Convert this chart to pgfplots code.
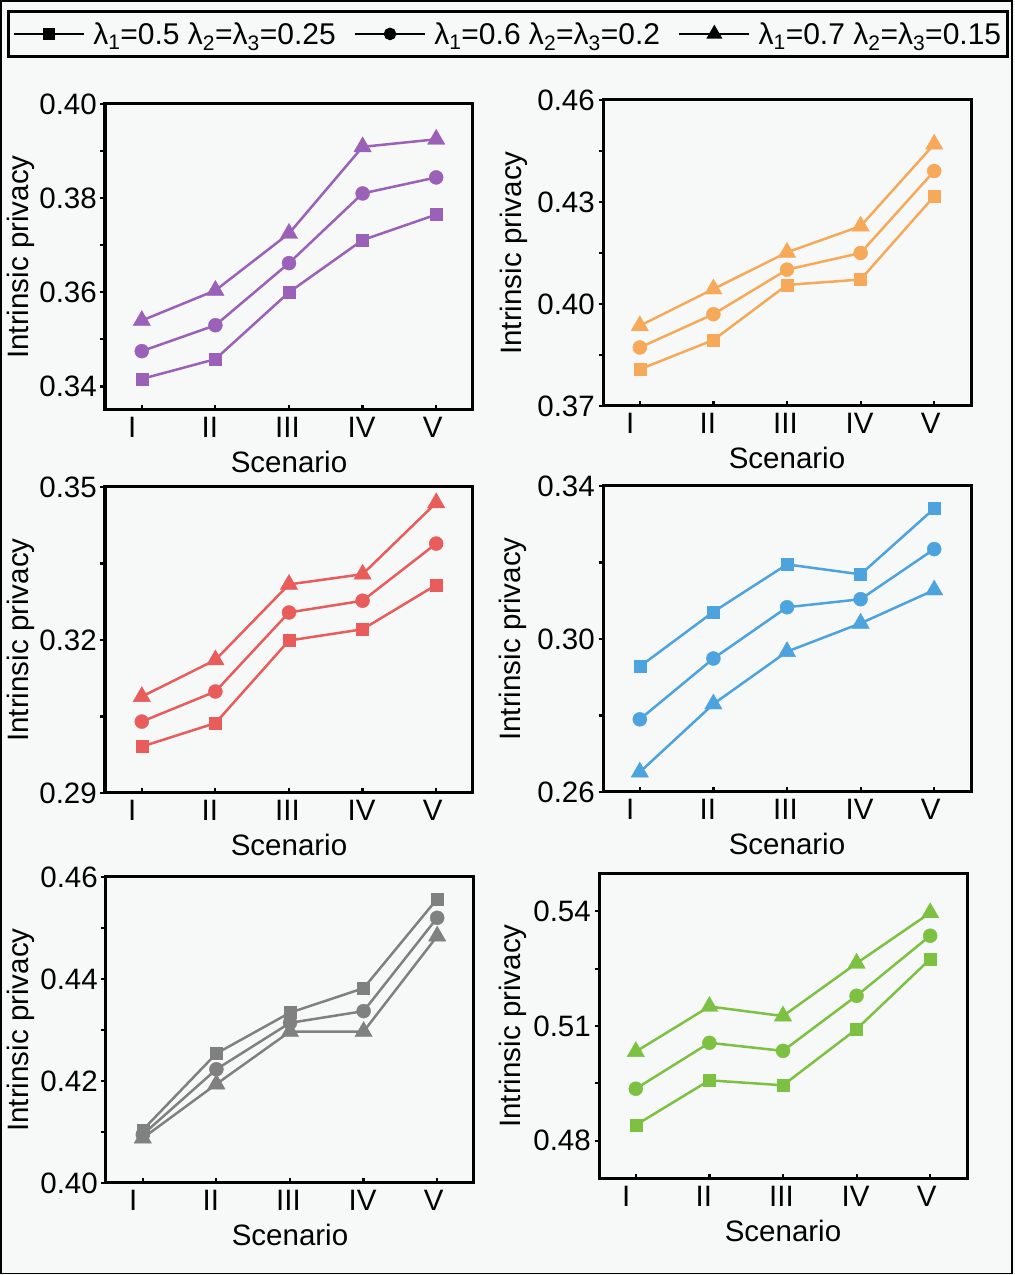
\documentclass[border=0pt]{standalone}
\usepackage{fontspec}
\setmainfont{Liberation Sans}
\usepackage{pgfplots}
\pgfplotsset{compat=1.18}
\definecolor{bg}{HTML}{F7F9F8}
\definecolor{cpurple}{RGB}{155,96,184}
\definecolor{corange}{RGB}{247,169,90}
\definecolor{cred}{RGB}{232,92,92}
\definecolor{cblue}{RGB}{76,163,222}
\definecolor{cgray}{RGB}{128,128,128}
\definecolor{cgreen}{RGB}{125,193,66}
\pgfplotsset{
  panel/.style={
    scale only axis, width=368pt, height=306pt,
    xmin=0.5, xmax=5.5, xtick={1,2,3,4,5},
    xticklabels={I\hspace*{19pt},II\hspace*{11pt},III\hspace*{3pt},IV\hspace*{2pt},V\hspace*{7pt}},
    font=\fontsize{29.5}{34}\selectfont,
    axis line style={line width=3pt},
    tick style={line width=2.2pt, black},
    major tick length=4.5pt, minor tick length=4.5pt,
    tick align=inside, tick pos=left,
    every y tick/.append style={xshift=-4.5pt},
    /pgf/number format/assume math mode=true,
    /pgf/number format/fixed, /pgf/number format/fixed zerofill, /pgf/number format/precision=2,
    yticklabel style={inner sep=0pt, xshift=-8pt},
    xticklabel style={inner sep=0pt, yshift=-7pt},
    xlabel={Scenario}, ylabel={Intrinsic privacy},
    xlabel style={at={(axis description cs:0.5,0)}, anchor=center, yshift=-52pt},
    clip=false,
    axis background/.style={fill=bg},
  },
  sq/.style={#1, line width=2.5pt, mark=square*, mark size=6pt, mark options={line width=0.4pt, fill=#1, draw=#1}, forget plot},
  ci/.style={#1, line width=2.5pt, mark=*, mark size=7pt, mark options={line width=0.4pt, fill=#1, draw=#1}, forget plot},
  tr/.style={#1, line width=2.5pt, mark=triangle*, mark size=10pt, mark options={line width=0.4pt, fill=#1, draw=#1}, forget plot},
}
\begin{document}
\begin{tikzpicture}
\useasboundingbox (0pt,0pt) rectangle (1015pt,1275pt);
\fill[bg] (0pt,0pt) rectangle (1015pt,1275pt);
\draw[line width=1.5pt] (1pt,1.5pt) rectangle (1012pt,1274pt);

% Panel 1 purple
\begin{axis}[panel, at={(105pt,865pt)}, anchor=south west,
  ymin=0.335, ymax=0.40, ytick={0.34,0.36,0.38,0.40}, minor ytick={0.35,0.37,0.39},
  ylabel style={at={(axis description cs:-0.228,0.5)}, anchor=center},
  legend columns=3,
  legend style={at={(axis description cs:1.095,1.229)}, anchor=center,
    draw=black, line width=3pt, fill=bg, inner xsep=4pt, inner ysep=9pt,
    font=\fontsize{30}{35}\selectfont,
    /tikz/every odd column/.append style={column sep=6pt},
    /tikz/every even column/.append style={column sep=16pt}},
  legend image code/.code={\draw[mark repeat=2,mark phase=2,#1] plot coordinates {(0pt,0pt) (35pt,0pt) (70pt,0pt)};},
]
\addlegendimage{black, line width=2.5pt, mark=square*, mark size=4.8pt}
\addlegendentry{λ\textsubscript{1}=0.5 λ\textsubscript{2}=λ\textsubscript{3}=0.25}
\addlegendimage{black, line width=2.5pt, mark=*, mark size=5pt}
\addlegendentry{λ\textsubscript{1}=0.6 λ\textsubscript{2}=λ\textsubscript{3}=0.2}
\addlegendimage{black, line width=2.5pt, mark=triangle*, mark size=6.8pt}
\addlegendentry{λ\textsubscript{1}=0.7 λ\textsubscript{2}=λ\textsubscript{3}=0.15}
\addplot[sq=cpurple] coordinates {(1,0.3416) (2,0.3458) (3,0.3600) (4,0.3711) (5,0.3765)};
\addplot[ci=cpurple] coordinates {(1,0.3475) (2,0.3530) (3,0.3662) (4,0.3810) (5,0.3844)};
\addplot[tr=cpurple] coordinates {(1,0.3540) (2,0.3604) (3,0.3725) (4,0.3909) (5,0.3925)};
\end{axis}

% Panel 2 orange
\begin{axis}[panel, at={(603pt,869pt)}, anchor=south west,
  ymin=0.37, ymax=0.46, ytick={0.37,0.40,0.43,0.46}, minor ytick={0.385,0.415,0.445},
  ylabel style={at={(axis description cs:-0.242,0.5)}, anchor=center}]
\addplot[sq=corange] coordinates {(1,0.3808) (2,0.3894) (3,0.4056) (4,0.4072) (5,0.4317)};
\addplot[ci=corange] coordinates {(1,0.3872) (2,0.3970) (3,0.4101) (4,0.4150) (5,0.4391)};
\addplot[tr=corange] coordinates {(1,0.3936) (2,0.4044) (3,0.4152) (4,0.4229) (5,0.4470)};
\end{axis}

% Panel 3 red
\begin{axis}[panel, at={(105pt,482pt)}, anchor=south west,
  ymin=0.29, ymax=0.35, ytick={0.29,0.32,0.35}, minor ytick={0.305,0.335},
  ylabel style={at={(axis description cs:-0.228,0.5)}, anchor=center}]
\addplot[sq=cred] coordinates {(1,0.2991) (2,0.3037) (3,0.3199) (4,0.3221) (5,0.3308)};
\addplot[ci=cred] coordinates {(1,0.3040) (2,0.3099) (3,0.3254) (4,0.3277) (5,0.3389)};
\addplot[tr=cred] coordinates {(1,0.3089) (2,0.3161) (3,0.3309) (4,0.3329) (5,0.3469)};
\end{axis}

% Panel 4 blue
\begin{axis}[panel, at={(603pt,483pt)}, anchor=south west,
  ymin=0.26, ymax=0.34, ytick={0.26,0.30,0.34}, minor ytick={0.28,0.32},
  ylabel style={at={(axis description cs:-0.244,0.5)}, anchor=center}]
\addplot[sq=cblue] coordinates {(1,0.2928) (2,0.3071) (3,0.3195) (4,0.3169) (5,0.3341)};
\addplot[ci=cblue] coordinates {(1,0.2790) (2,0.2949) (3,0.3083) (4,0.3104) (5,0.3235)};
\addplot[tr=cblue] coordinates {(1,0.2652) (2,0.2830) (3,0.2967) (4,0.3041) (5,0.3128)};
\end{axis}

% Panel 5 gray
\begin{axis}[panel, at={(106pt,92pt)}, anchor=south west,
  ymin=0.40, ymax=0.46, ytick={0.40,0.42,0.44,0.46}, minor ytick={0.41,0.43,0.45},
  ylabel style={at={(axis description cs:-0.231,0.5)}, anchor=center}]
\addplot[sq=cgray] coordinates {(1,0.4104) (2,0.4254) (3,0.4334) (4,0.4382) (5,0.4557)};
\addplot[ci=cgray] coordinates {(1,0.4095) (2,0.4223) (3,0.4314) (4,0.4337) (5,0.4520)};
\addplot[tr=cgray] coordinates {(1,0.4088) (2,0.4194) (3,0.4297) (4,0.4297) (5,0.4484)};
\end{axis}

% Panel 6 green
\begin{axis}[panel, at={(599pt,96pt)}, anchor=south west,
  ymin=0.47, ymax=0.55, ytick={0.48,0.51,0.54}, minor ytick={0.495,0.525},
  ylabel style={at={(axis description cs:-0.233,0.5)}, anchor=center}]
\addplot[sq=cgreen] coordinates {(1,0.4841) (2,0.4958) (3,0.4945) (4,0.5092) (5,0.5275)};
\addplot[ci=cgreen] coordinates {(1,0.4936) (2,0.5056) (3,0.5035) (4,0.5179) (5,0.5336)};
\addplot[tr=cgreen] coordinates {(1,0.5033) (2,0.5151) (3,0.5126) (4,0.5264) (5,0.5396)};
\end{axis}
\end{tikzpicture}
\end{document}
